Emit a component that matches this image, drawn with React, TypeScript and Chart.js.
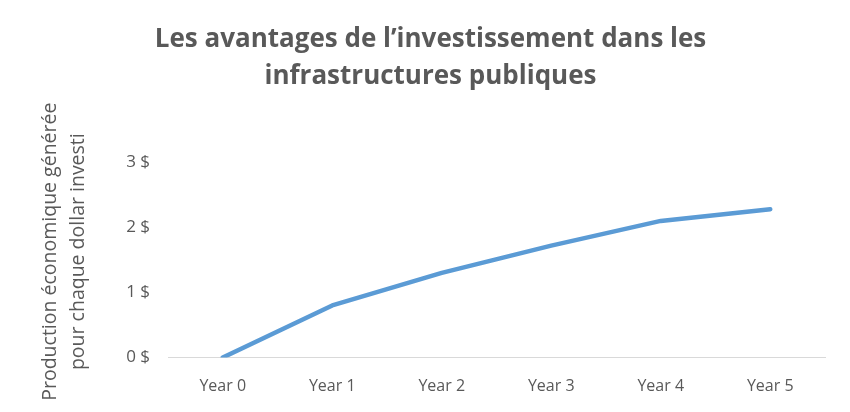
import React, { useEffect, useRef } from "react";
import { Chart, registerables } from "chart.js";

Chart.register(...registerables);

const categories = ["Year 0", "Year 1", "Year 2", "Year 3", "Year 4", "Year 5"];
const values = [0, 0.8, 1.3, 1.72, 2.1, 2.28];
const yTicks = [0, 1, 2, 3];
const titleLines = ["Les avantages de l\u2019investissement dans les", "infrastructures publiques"];
const yTitleLines = ["Production \u00e9conomique g\u00e9n\u00e9r\u00e9e", "pour chaque dollar investi"];

const FONT = "'Open Sans', 'Noto Sans', sans-serif";
const GREY = "#595959";

const yTitlePlugin = {
  id: "yTitle",
  afterDraw(chart: any) {
    const { ctx, chartArea } = chart;
    const cy = (chartArea.top + chartArea.bottom) / 2 + 8;
    ctx.save();
    ctx.fillStyle = GREY;
    ctx.font = `19.5px ${FONT}`;
    ctx.textAlign = "center";
    ctx.textBaseline = "middle";
    const xs = [50, 78.5];
    yTitleLines.forEach((line, i) => {
      ctx.save();
      ctx.translate(xs[i], cy);
      ctx.rotate(-Math.PI / 2);
      ctx.fillText(line, 0, 0);
      ctx.restore();
    });
    ctx.restore();
  },
};

export default function App() {
  const ref = useRef<HTMLCanvasElement | null>(null);
  useEffect(() => {
    document.body.style.margin = "0";
    const ctx = ref.current!;
    const chart = new Chart(ctx, {
      type: "line",
      data: {
        labels: categories,
        datasets: [
          {
            data: values,
            borderColor: "#5B9BD5",
            borderWidth: 4.5,
            pointRadius: 0,
            tension: 0,
            fill: false,
            borderCapStyle: "round",
            borderJoinStyle: "round",
          },
        ],
      },
      plugins: [yTitlePlugin],
      options: {
        animation: false,
        responsive: false,
        maintainAspectRatio: false,
        layout: { padding: { left: 36, right: 25, top: 0, bottom: 0 } },
        plugins: {
          legend: { display: false },
          tooltip: { enabled: false },
          title: {
            display: true,
            text: titleLines,
            color: GREY,
            font: { family: FONT, size: 26, weight: "bold", lineHeight: 1.42 },
            padding: { top: 21.5, bottom: 34.5 },
          },
        },
        scales: {
          x: {
            offset: true,
            grid: { display: false },
            border: { display: true, color: "#d9d9d9", width: 1 },
            ticks: {
              color: GREY,
              font: { family: FONT, size: 16 },
              padding: 11,
              maxRotation: 0,
            },
            afterFit: (s: any) => {
              s.height = 54.5;
            },
          },
          y: {
            min: 0,
            max: 3.5,
            grid: { display: false },
            border: { display: false },
            afterBuildTicks: (s: any) => {
              s.ticks = yTicks.map((v) => ({ value: v }));
            },
            ticks: {
              color: GREY,
              font: { family: FONT, size: 17 },
              padding: 10,
              callback: (v: any) => v + " $",
            },
            title: { display: false },
            afterFit: (s: any) => {
              s.width = 132;
            },
          },
        },
      },
    });
    return () => chart.destroy();
  }, []);
  return <canvas ref={ref} width={850} height={412} style={{ display: "block" }} />;
}
